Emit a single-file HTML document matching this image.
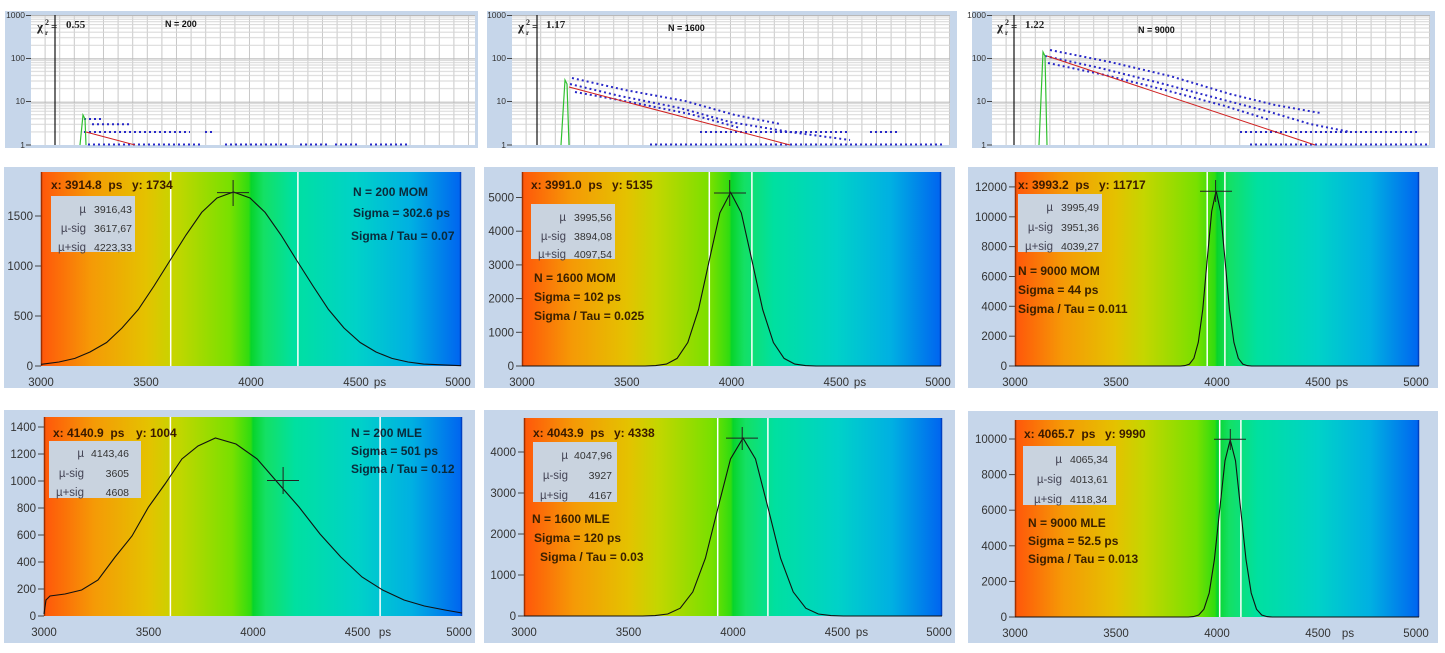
<!DOCTYPE html>
<html><head><meta charset="utf-8"><style>
html,body{margin:0;padding:0;background:#fff;width:1445px;height:653px;overflow:hidden}
svg{display:block}
text{font-family:"Liberation Sans",sans-serif}
.t{font-size:11.5px;fill:#333}
.tm{font-size:11.5px;fill:#333;text-anchor:middle}
.te{font-size:11.5px;fill:#333;text-anchor:end}
.ts{font-size:8.5px;fill:#333;text-anchor:end}
.r{font-size:12px;font-weight:bold;fill:#3a1a00}
.lb{font-size:12px;font-weight:bold;fill:#3a2000}
.lt{font-size:12px;font-weight:bold;fill:#0a2a3a}
.bk{font-size:11.5px;fill:#445;text-anchor:end}
.bv{font-size:10.5px;fill:#333}
.bve{font-size:10.5px;fill:#333;text-anchor:end}
.cur{stroke:#222;stroke-width:1}
.wl{stroke:#fff;stroke-width:1.5}
.cv{fill:none;stroke:#111;stroke-width:1.1}
.tk{stroke:#444;stroke-width:1}
.dots{fill:none;stroke:#2828c8;stroke-width:2;stroke-dasharray:2 3}
.chi{font-family:"Liberation Serif",serif;font-weight:bold;fill:#222}
</style></head><body>
<svg width="1445" height="653" xmlns="http://www.w3.org/2000/svg">
<defs>
<linearGradient id="g" x1="0" x2="1" y1="0" y2="0">
<stop offset="0" stop-color="#ff560a"/><stop offset="0.12" stop-color="#f59a06"/><stop offset="0.25" stop-color="#e4c200"/><stop offset="0.32" stop-color="#c4d600"/><stop offset="0.45" stop-color="#78e000"/><stop offset="0.495" stop-color="#30dc10"/><stop offset="0.5" stop-color="#08d42a"/><stop offset="0.53" stop-color="#14e064"/><stop offset="0.6" stop-color="#00e0a0"/><stop offset="0.75" stop-color="#00d2c8"/><stop offset="0.88" stop-color="#00b0e2"/><stop offset="1" stop-color="#0064f0"/>
</linearGradient>
<pattern id="hp" patternUnits="userSpaceOnUse" x="0" y="15" width="2000" height="43.333">
<g stroke="#d6d6d6" stroke-width="1">
<line x1="0" x2="2000" y1="1.98" y2="1.98"/><line x1="0" x2="2000" y1="4.2" y2="4.2"/><line x1="0" x2="2000" y1="6.71" y2="6.71"/><line x1="0" x2="2000" y1="9.61" y2="9.61"/><line x1="0" x2="2000" y1="13.04" y2="13.04"/><line x1="0" x2="2000" y1="17.24" y2="17.24"/><line x1="0" x2="2000" y1="22.67" y2="22.67"/><line x1="0" x2="2000" y1="30.29" y2="30.29"/>
</g>
<line x1="0" x2="2000" y1="0.5" y2="0.5" stroke="#b8b8b8"/>
</pattern>
<pattern id="vp1" patternUnits="userSpaceOnUse" x="31" y="0" width="14.6" height="200"><line x1="14.1" x2="14.1" y1="0" y2="200" stroke="#c8c8c8"/></pattern>
<pattern id="vp2" patternUnits="userSpaceOnUse" x="512" y="0" width="14.6" height="200"><line x1="14.1" x2="14.1" y1="0" y2="200" stroke="#c8c8c8"/></pattern>
<pattern id="vp3" patternUnits="userSpaceOnUse" x="992" y="0" width="14.6" height="200"><line x1="14.1" x2="14.1" y1="0" y2="200" stroke="#c8c8c8"/></pattern>
</defs>

<!-- ===== TOP ROW ===== -->
<rect x="5" y="11" width="473" height="137" fill="#c6d6ea"/>
<rect x="487" y="11" width="470" height="137" fill="#c6d6ea"/>
<rect x="972" y="11" width="463" height="137" fill="#c6d6ea"/>
<rect x="31" y="15" width="444" height="130" fill="#fff"/>
<rect x="512" y="15" width="438" height="130" fill="#fff"/>
<rect x="992" y="15" width="438" height="130" fill="#fff"/>
<rect x="31" y="15" width="444" height="130" fill="url(#vp1)"/>
<rect x="512" y="15" width="438" height="130" fill="url(#vp2)"/>
<rect x="992" y="15" width="438" height="130" fill="url(#vp3)"/>
<rect x="31" y="15" width="444" height="130" fill="url(#hp)"/>
<rect x="512" y="15" width="438" height="130" fill="url(#hp)"/>
<rect x="992" y="15" width="438" height="130" fill="url(#hp)"/>
<g class="tk">
<line x1="26" x2="31" y1="15.5" y2="15.5"/><line x1="26" x2="31" y1="58.5" y2="58.5"/><line x1="26" x2="31" y1="101.5" y2="101.5"/><line x1="26" x2="31" y1="145" y2="145"/>
<line x1="507" x2="512" y1="15.5" y2="15.5"/><line x1="507" x2="512" y1="58.5" y2="58.5"/><line x1="507" x2="512" y1="101.5" y2="101.5"/><line x1="507" x2="512" y1="145" y2="145"/>
<line x1="987" x2="992" y1="15.5" y2="15.5"/><line x1="987" x2="992" y1="58.5" y2="58.5"/><line x1="987" x2="992" y1="101.5" y2="101.5"/><line x1="987" x2="992" y1="145" y2="145"/>
</g>
<g class="ts">
<text x="25" y="18">1000</text><text x="25" y="61">100</text><text x="25" y="104">10</text><text x="25" y="148">1</text>
<text x="506" y="18">1000</text><text x="506" y="61">100</text><text x="506" y="104">10</text><text x="506" y="148">1</text>
<text x="986" y="18">1000</text><text x="986" y="61">100</text><text x="986" y="104">10</text><text x="986" y="148">1</text>
</g>
<line x1="55" x2="55" y1="15" y2="145" stroke="#111" stroke-width="1.2"/>
<line x1="537" x2="537" y1="15" y2="145" stroke="#111" stroke-width="1.2"/>
<line x1="1014" x2="1014" y1="15" y2="145" stroke="#111" stroke-width="1.2"/>

<!-- top col1 data -->
<path class="dots" d="M88,144.5 L200,144.5 M225,144.5 L290,144.5 M300,144.5 L330,144.5 M335,144.5 L360,144.5 M370,144.5 L410,144.5"/>
<path class="dots" d="M84,132 L190,132 M205,132 L215,132"/>
<path class="dots" d="M92,124.3 L130,124.3"/>
<path class="dots" d="M84,119 L102,119"/>
<path d="M80,145 L83,115 L85,119 L86,145" fill="none" stroke="#30c030" stroke-width="1.2"/>
<line x1="86" y1="132" x2="135" y2="145" stroke="#d02020"/>
<!-- top col2 data -->
<path class="dots" d="M570,84 L620,96 L680,108 L730,122 L790,132 L850,140"/>
<path class="dots" d="M575,92 L630,102 L690,114 L740,128" />
<path class="dots" d="M572,78 L625,90 L685,101 L735,115 L780,124"/>
<path class="dots" d="M650,144.5 L945,144.5"/>
<path class="dots" d="M700,132 L850,132 M870,132 L900,132"/>
<path d="M561,145 L565,80 L567,84 L569,145" fill="none" stroke="#30c030" stroke-width="1.2"/>
<line x1="569" y1="87" x2="790" y2="145" stroke="#d02020"/>
<!-- top col3 data -->
<path class="dots" d="M1045,56 L1100,68 L1160,83 L1220,99 L1270,112 L1310,124 L1350,132"/>
<path class="dots" d="M1048,63 L1105,75 L1165,90 L1225,106 L1270,120" />
<path class="dots" d="M1050,50 L1110,62 L1170,76 L1230,94 L1275,105 L1320,113"/>
<path class="dots" d="M1240,132 L1420,132"/>
<path class="dots" d="M1250,144.5 L1428,144.5"/>
<path d="M1039,145 L1043,52 L1045,56 L1047,145" fill="none" stroke="#30c030" stroke-width="1.2"/>
<line x1="1047" y1="56" x2="1315" y2="145" stroke="#d02020"/>

<text class="chi" x="37" y="31" font-size="13">χ</text><text class="chi" x="45" y="25" font-size="8">2</text><text class="chi" x="45" y="35" font-size="7">r</text><text class="chi" x="51" y="30" font-size="11">=</text>
<text class="chi" x="66" y="28" font-size="11">0.55</text>
<text x="165" y="27" font-size="9" font-weight="bold" fill="#111">N = 200</text>
<text class="chi" x="518" y="31" font-size="13">χ</text><text class="chi" x="526" y="25" font-size="8">2</text><text class="chi" x="526" y="35" font-size="7">r</text><text class="chi" x="532" y="30" font-size="11">=</text>
<text class="chi" x="546" y="28" font-size="11">1.17</text>
<text x="668" y="31" font-size="9" font-weight="bold" fill="#111">N = 1600</text>
<text class="chi" x="997" y="31" font-size="13">χ</text><text class="chi" x="1005" y="25" font-size="8">2</text><text class="chi" x="1005" y="35" font-size="7">r</text><text class="chi" x="1011" y="30" font-size="11">=</text>
<text class="chi" x="1025" y="28" font-size="11">1.22</text>
<text x="1138" y="33" font-size="9" font-weight="bold" fill="#111">N = 9000</text>

<!-- ===== PANEL BACKGROUNDS rows 2-3 ===== -->
<rect x="4" y="167" width="471" height="221" fill="#c6d6ea"/>
<rect x="484" y="167" width="471" height="221" fill="#c6d6ea"/>
<rect x="968" y="167" width="470" height="221" fill="#c6d6ea"/>
<rect x="4" y="410" width="471" height="233" fill="#c6d6ea"/>
<rect x="484" y="410" width="471" height="233" fill="#c6d6ea"/>
<rect x="968" y="411" width="470" height="232" fill="#c6d6ea"/>
<rect x="41" y="172" width="420" height="194" fill="url(#g)"/>
<rect x="522" y="172" width="419" height="194" fill="url(#g)"/>
<rect x="1015" y="172" width="404" height="194" fill="url(#g)"/>
<rect x="44" y="417" width="418" height="199" fill="url(#g)"/>
<rect x="524" y="418" width="418" height="198" fill="url(#g)"/>
<rect x="1015" y="420" width="404" height="197" fill="url(#g)"/>
<g stroke-width="1.5">
<line x1="41.5" x2="41.5" y1="172" y2="366" stroke="#a03000"/><line x1="460.5" x2="460.5" y1="172" y2="366" stroke="#0040c0"/>
<line x1="522.5" x2="522.5" y1="172" y2="366" stroke="#a03000"/><line x1="940.5" x2="940.5" y1="172" y2="366" stroke="#0040c0"/>
<line x1="1015.5" x2="1015.5" y1="172" y2="366" stroke="#a03000"/><line x1="1418.5" x2="1418.5" y1="172" y2="366" stroke="#0040c0"/>
<line x1="44.5" x2="44.5" y1="417" y2="616" stroke="#a03000"/><line x1="461.5" x2="461.5" y1="417" y2="616" stroke="#0040c0"/>
<line x1="524.5" x2="524.5" y1="418" y2="616" stroke="#a03000"/><line x1="941.5" x2="941.5" y1="418" y2="616" stroke="#0040c0"/>
<line x1="1015.5" x2="1015.5" y1="420" y2="617" stroke="#a03000"/><line x1="1418.5" x2="1418.5" y1="420" y2="617" stroke="#0040c0"/>
</g>

<!-- white sigma lines -->
<g class="wl">
<line x1="170.7" x2="170.7" y1="172" y2="366"/><line x1="297.9" x2="297.9" y1="172" y2="366"/>
<line x1="709.3" x2="709.3" y1="172" y2="366"/><line x1="751.9" x2="751.9" y1="172" y2="366"/>
<line x1="1207.2" x2="1207.2" y1="172" y2="366"/><line x1="1224.9" x2="1224.9" y1="172" y2="366"/>
<line x1="170.4" x2="170.4" y1="417" y2="616"/><line x1="380.1" x2="380.1" y1="417" y2="616"/>
<line x1="717.7" x2="717.7" y1="418" y2="616"/><line x1="767.9" x2="767.9" y1="418" y2="616"/>
<line x1="1219.7" x2="1219.7" y1="420" y2="617"/><line x1="1240.9" x2="1240.9" y1="420" y2="617"/>
</g>

<!-- curves -->
<path class="cv" d="M41,364.3 L43.2,364.1 L59,362 L74.9,358.4 L90,352 L106.6,342.5 L122,328 L138.3,309.5 L154,286 L170,260.5 L186,235 L201.7,212.4 L217,198 L233.4,192 L250,198 L265.1,212.4 L281,235 L296.8,260.5 L313,286 L328.5,309.5 L344,328 L360.2,342.5 L376,352 L391.9,358.4 L408,362 L423.6,364.1 L461,365.7"/>
<path class="cv" d="M522,366 L645,366 L655.7,365.6 L666.4,364.1 L677.1,358.4 L687.8,342.5 L698.5,309.6 L709.2,260.7 L719.9,212.8 L730.6,192.4 L741.3,212.8 L752,260.7 L762.7,309.6 L773.4,342.5 L784.1,358.4 L794.8,364.1 L805.5,365.6 L816.2,366 L941,366"/>
<path class="cv" d="M1015,366 L1180.5,366 L1184.9,365.6 L1189.4,364.1 L1193.9,358.3 L1198.3,342.3 L1202.8,309.1 L1207.2,259.7 L1211.7,211.3 L1216.1,190.7 L1220.5,211.3 L1225,259.7 L1229.4,309.1 L1233.9,342.3 L1238.3,358.3 L1242.8,364.1 L1247.2,365.6 L1251.7,366 L1419,366"/>
<path class="cv" d="M44,614 L46,600 L50,596 L65,594 L81.6,590 L98,580 L115.1,557 L132,536 L148.5,507 L165,484 L181.9,459 L198,446 L215.4,438 L236,444 L257.2,459 L278,483 L299,507 L320,534 L340.8,557 L362,577 L382.6,590 L404,600 L424.4,606 L445,610 L462,613"/>
<path class="cv" d="M524,616 L642.6,616 L655.1,615.6 L667.7,614 L680.2,608.2 L692.8,591.9 L705.4,558.2 L717.9,508.1 L730.5,459 L743,438.1 L755.5,459 L768.1,508.1 L780.6,558.2 L793.2,591.9 L805.8,608.2 L818.3,614 L830.9,615.6 L843.4,616 L942,616"/>
<path class="cv" d="M1015,617 L1188.2,617 L1193.4,616.6 L1198.7,615 L1203.9,609.2 L1209.2,593 L1214.4,559.5 L1219.7,509.6 L1225,460.7 L1230.2,439.9 L1235.5,460.7 L1240.7,509.6 L1246,559.5 L1251.2,593 L1256.5,609.2 L1261.7,615 L1267,616.6 L1272.2,617 L1419,617"/>

<!-- cursors -->
<g class="cur">
<line x1="217" x2="249" y1="192.6" y2="192.6"/><line x1="233.1" x2="233.1" y1="180" y2="206"/>
<line x1="714" x2="746" y1="193" y2="193"/><line x1="729.7" x2="729.7" y1="180" y2="206"/>
<line x1="1200" x2="1232" y1="191.2" y2="191.2"/><line x1="1215.6" x2="1215.6" y1="180" y2="202"/>
<line x1="267" x2="299" y1="480.5" y2="480.5"/><line x1="283.1" x2="283.1" y1="467" y2="494"/>
<line x1="726" x2="758" y1="438.1" y2="438.1"/><line x1="742.2" x2="742.2" y1="427" y2="450"/>
<line x1="1214" x2="1246" y1="439.2" y2="439.2"/><line x1="1230.3" x2="1230.3" y1="429" y2="450"/>
</g>

<!-- axis ticks -->
<g class="tk">
<line x1="35" x2="41" y1="366" y2="366"/><line x1="35" x2="41" y1="316" y2="316"/><line x1="35" x2="41" y1="266" y2="266"/><line x1="35" x2="41" y1="216" y2="216"/>
<line x1="516" x2="522" y1="366" y2="366"/><line x1="516" x2="522" y1="332.3" y2="332.3"/><line x1="516" x2="522" y1="298.6" y2="298.6"/><line x1="516" x2="522" y1="264.9" y2="264.9"/><line x1="516" x2="522" y1="231.2" y2="231.2"/><line x1="516" x2="522" y1="197.5" y2="197.5"/>
<line x1="1009" x2="1015" y1="366" y2="366"/><line x1="1009" x2="1015" y1="336.2" y2="336.2"/><line x1="1009" x2="1015" y1="306.3" y2="306.3"/><line x1="1009" x2="1015" y1="276.5" y2="276.5"/><line x1="1009" x2="1015" y1="246.6" y2="246.6"/><line x1="1009" x2="1015" y1="216.8" y2="216.8"/><line x1="1009" x2="1015" y1="186.9" y2="186.9"/>
<line x1="38" x2="44" y1="616" y2="616"/><line x1="38" x2="44" y1="589" y2="589"/><line x1="38" x2="44" y1="562" y2="562"/><line x1="38" x2="44" y1="535" y2="535"/><line x1="38" x2="44" y1="508" y2="508"/><line x1="38" x2="44" y1="481" y2="481"/><line x1="38" x2="44" y1="454" y2="454"/><line x1="38" x2="44" y1="427" y2="427"/>
<line x1="518" x2="524" y1="616" y2="616"/><line x1="518" x2="524" y1="575" y2="575"/><line x1="518" x2="524" y1="534" y2="534"/><line x1="518" x2="524" y1="493" y2="493"/><line x1="518" x2="524" y1="452" y2="452"/>
<line x1="1009" x2="1015" y1="617" y2="617"/><line x1="1009" x2="1015" y1="581.4" y2="581.4"/><line x1="1009" x2="1015" y1="545.8" y2="545.8"/><line x1="1009" x2="1015" y1="510.2" y2="510.2"/><line x1="1009" x2="1015" y1="474.6" y2="474.6"/><line x1="1009" x2="1015" y1="439" y2="439"/>
</g>
<g class="te">
<text x="33" y="370">0</text><text x="33" y="320">500</text><text x="33" y="270">1000</text><text x="33" y="220">1500</text>
<text x="514" y="370">0</text><text x="514" y="336.3">1000</text><text x="514" y="302.6">2000</text><text x="514" y="268.9">3000</text><text x="514" y="235.2">4000</text><text x="514" y="201.5">5000</text>
<text x="1007" y="370">0</text><text x="1007" y="340.2">2000</text><text x="1007" y="310.3">4000</text><text x="1007" y="280.5">6000</text><text x="1007" y="250.6">8000</text><text x="1007" y="220.8">10000</text><text x="1007" y="190.9">12000</text>
<text x="36" y="620">0</text><text x="36" y="593">200</text><text x="36" y="566">400</text><text x="36" y="539">600</text><text x="36" y="512">800</text><text x="36" y="485">1000</text><text x="36" y="458">1200</text><text x="36" y="431">1400</text>
<text x="516" y="620">0</text><text x="516" y="579">1000</text><text x="516" y="538">2000</text><text x="516" y="497">3000</text><text x="516" y="456">4000</text>
<text x="1007" y="621">0</text><text x="1007" y="585.4">2000</text><text x="1007" y="549.8">4000</text><text x="1007" y="514.2">6000</text><text x="1007" y="478.6">8000</text><text x="1007" y="443">10000</text>
</g>
<g class="tm">
<text x="41" y="386">3000</text><text x="146" y="386">3500</text><text x="251" y="386">4000</text><text x="356" y="386">4500</text><text x="380" y="386">ps</text><text x="458" y="386">5000</text>
<text x="522" y="386">3000</text><text x="626.8" y="386">3500</text><text x="731.5" y="386">4000</text><text x="836.3" y="386">4500</text><text x="860" y="386">ps</text><text x="938" y="386">5000</text>
<text x="1015" y="386">3000</text><text x="1116" y="386">3500</text><text x="1217" y="386">4000</text><text x="1318" y="386">4500</text><text x="1342" y="386">ps</text><text x="1416" y="386">5000</text>
<text x="44" y="636">3000</text><text x="148.5" y="636">3500</text><text x="253" y="636">4000</text><text x="357.5" y="636">4500</text><text x="385" y="636">ps</text><text x="459" y="636">5000</text>
<text x="524" y="636">3000</text><text x="628.5" y="636">3500</text><text x="733" y="636">4000</text><text x="837.5" y="636">4500</text><text x="862" y="636">ps</text><text x="939" y="636">5000</text>
<text x="1015" y="637">3000</text><text x="1116" y="637">3500</text><text x="1217" y="637">4000</text><text x="1318" y="637">4500</text><text x="1348" y="637">ps</text><text x="1416" y="637">5000</text>
</g>

<!-- readouts & stat boxes -->
<text class="r" x="51" y="189">x: 3914.8&#160;&#160;ps</text><text class="r" x="132" y="189">y: 1734</text>
<rect x="51" y="196" width="84" height="56" fill="#c9d3df"/>
<text class="bk" x="86" y="213">µ</text><text class="bv" x="94" y="213">3916,43</text>
<text class="bk" x="86" y="232">µ-sig</text><text class="bv" x="94" y="232">3617,67</text>
<text class="bk" x="86" y="251">µ+sig</text><text class="bv" x="94" y="251">4223,33</text>
<text class="lt" x="353" y="196">N = 200 MOM</text><text class="lt" x="353" y="217">Sigma = 302.6 ps</text><text class="lt" x="351" y="240">Sigma / Tau = 0.07</text>

<text class="r" x="531" y="189">x: 3991.0&#160;&#160;ps</text><text class="r" x="612" y="189">y: 5135</text>
<rect x="531" y="204" width="84" height="55" fill="#c9d3df"/>
<text class="bk" x="566" y="221">µ</text><text class="bv" x="574" y="221">3995,56</text>
<text class="bk" x="566" y="240">µ-sig</text><text class="bv" x="574" y="240">3894,08</text>
<text class="bk" x="566" y="258">µ+sig</text><text class="bv" x="574" y="258">4097,54</text>
<text class="lb" x="534" y="282">N = 1600 MOM</text><text class="lb" x="534" y="301">Sigma = 102 ps</text><text class="lb" x="534" y="320">Sigma / Tau = 0.025</text>

<text class="r" x="1018" y="189">x: 3993.2&#160;&#160;ps</text><text class="r" x="1099" y="189">y: 11717</text>
<rect x="1018" y="194" width="84" height="58" fill="#c9d3df"/>
<text class="bk" x="1053" y="211">µ</text><text class="bv" x="1061" y="211">3995,49</text>
<text class="bk" x="1053" y="231">µ-sig</text><text class="bv" x="1061" y="231">3951,36</text>
<text class="bk" x="1053" y="250">µ+sig</text><text class="bv" x="1061" y="250">4039,27</text>
<text class="lb" x="1018" y="275">N = 9000 MOM</text><text class="lb" x="1018" y="294">Sigma = 44 ps</text><text class="lb" x="1018" y="313">Sigma / Tau = 0.011</text>

<text class="r" x="53" y="437">x: 4140.9&#160;&#160;ps</text><text class="r" x="136" y="437">y: 1004</text>
<rect x="49" y="441" width="92" height="57" fill="#c9d3df"/>
<text class="bk" x="84" y="457">µ</text><text class="bve" x="129" y="457">4143,46</text>
<text class="bk" x="84" y="477">µ-sig</text><text class="bve" x="129" y="477">3605</text>
<text class="bk" x="84" y="496">µ+sig</text><text class="bve" x="129" y="496">4608</text>
<text class="lt" x="351" y="437">N = 200 MLE</text><text class="lt" x="351" y="455">Sigma = 501 ps</text><text class="lt" x="351" y="473">Sigma / Tau = 0.12</text>

<text class="r" x="533" y="437">x: 4043.9&#160;&#160;ps</text><text class="r" x="614" y="437">y: 4338</text>
<rect x="533" y="442" width="84" height="60" fill="#c9d3df"/>
<text class="bk" x="568" y="459">µ</text><text class="bve" x="612" y="459">4047,96</text>
<text class="bk" x="568" y="479">µ-sig</text><text class="bve" x="612" y="479">3927</text>
<text class="bk" x="568" y="499">µ+sig</text><text class="bve" x="612" y="499">4167</text>
<text class="lb" x="532" y="523">N = 1600 MLE</text><text class="lb" x="534" y="542">Sigma = 120 ps</text><text class="lb" x="540" y="561">Sigma / Tau = 0.03</text>

<text class="r" x="1024" y="438">x: 4065.7&#160;&#160;ps</text><text class="r" x="1105" y="438">y: 9990</text>
<rect x="1023" y="446" width="93" height="59" fill="#c9d3df"/>
<text class="bk" x="1062" y="463">µ</text><text class="bv" x="1070" y="463">4065,34</text>
<text class="bk" x="1062" y="483">µ-sig</text><text class="bv" x="1070" y="483">4013,61</text>
<text class="bk" x="1062" y="503">µ+sig</text><text class="bv" x="1070" y="503">4118,34</text>
<text class="lb" x="1028" y="527">N = 9000 MLE</text><text class="lb" x="1028" y="545">Sigma = 52.5 ps</text><text class="lb" x="1028" y="563">Sigma / Tau = 0.013</text>
</svg>
</body></html>
